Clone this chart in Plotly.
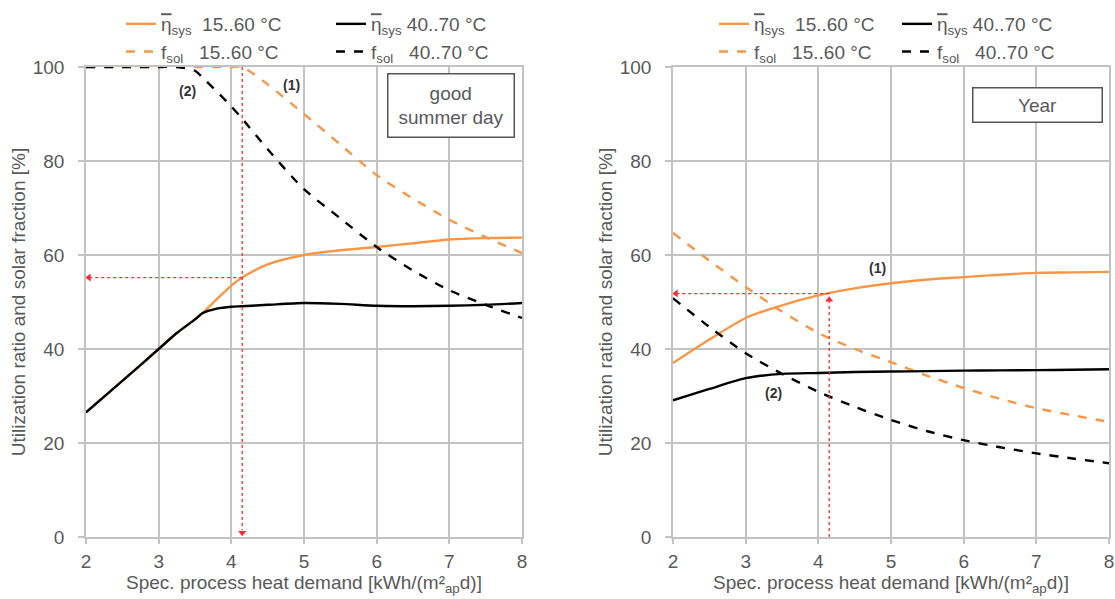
import plotly.graph_objects as go

# ---------------- data ----------------
x_day = [2, 2.5, 3, 3.25, 3.5, 3.6, 3.8, 4, 4.15, 4.5, 5, 5.5, 6, 6.5, 7, 7.5, 8]
eta_15_60_day = [26.5, 33.2, 40, 43.4, 46.3, 47.6, 50.6, 53.5, 55.2, 58, 60, 61, 61.7, 62.5, 63.3, 63.6, 63.7]
eta_40_70_day = [26.5, 33.2, 40, 43.4, 46.3, 47.6, 48.6, 49, 49.1, 49.4, 49.8, 49.6, 49.2, 49.1, 49.2, 49.4, 49.8]
fsol_15_60_day = [100, 100, 100, 100, 100, 100, 100, 100, 100, 96.3, 90, 83.5, 77, 72, 67.5, 63.8, 60.4]
fsol_40_70_day = [100, 100, 100, 100, 99.2, 97.8, 94.8, 91.6, 89, 82.5, 74, 67.8, 61.7, 56.7, 52.5, 49.4, 46.6]

x_year = [2, 2.5, 3, 3.5, 4, 4.5, 5, 5.5, 6, 6.5, 7, 7.5, 8]
eta_15_60_year = [37, 42, 46.6, 49.3, 51.4, 52.9, 54, 54.8, 55.3, 55.8, 56.2, 56.3, 56.4]
fsol_15_60_year = [64.7, 58.8, 53.2, 48, 43.4, 40, 37.2, 34.3, 31.7, 29.4, 27.4, 25.9, 24.5]
eta_40_70_year = [29.1, 31.5, 33.8, 34.7, 34.9, 35.1, 35.2, 35.3, 35.4, 35.45, 35.5, 35.6, 35.7]
fsol_40_70_year = [50.8, 44.7, 39.1, 34.7, 30.9, 27.7, 24.9, 22.5, 20.6, 19.1, 17.8, 16.7, 15.7]

read_x_day, read_y_day = 4.15, 55.2
read_x_year, read_y_year = 4.15, 51.8

x_ticks = [2, 3, 4, 5, 6, 7, 8]
y_ticks = [0, 20, 40, 60, 80, 100]

ORANGE = "#F79646"
BLACK = "#000000"
GRID = "#c3c3c3"
TXT = "#595959"
RED = "#ff2a2a"
FONT = "Liberation Sans, Arial, sans-serif"
FS = 19

ETA = '<span style="text-decoration:overline">η</span><sub>sys</sub>'

fig = go.Figure()

def add_series(x, eta15, eta40, f15, f40, xa, ya, leg_orange, leg_black):
    specs = [
        (eta15, ORANGE, "solid", ETA + "  15..60 °C", leg_orange),
        (f15, ORANGE, "dash", "f<sub>sol</sub>   15..60 °C", leg_orange),
        (eta40, BLACK, "solid", ETA + " 40..70 °C", leg_black),
        (f40, BLACK, "dash", "f<sub>sol</sub>   40..70 °C", leg_black),
    ]
    for y, c, d, name, leg in specs:
        fig.add_trace(go.Scatter(
            x=x, y=y, mode="lines", name=name,
            line=dict(color=c, width=2.4, dash=d, shape="spline", smoothing=0.7),
            xaxis=xa, yaxis=ya, legend=leg, showlegend=True, hoverinfo="skip"))

add_series(x_day, eta_15_60_day, eta_40_70_day, fsol_15_60_day, fsol_40_70_day, "x", "y", "legend", "legend2")
add_series(x_year, eta_15_60_year, eta_40_70_year, fsol_15_60_year, fsol_40_70_year, "x2", "y2", "legend3", "legend4")

# red reading lines
red_line = dict(color=RED, width=1.3, dash="dot")
fig.add_shape(type="line", xref="x", yref="y", x0=read_x_day, x1=read_x_day, y0=100, y1=1.5, line=red_line)
fig.add_shape(type="line", xref="x", yref="y", x0=read_x_day, x1=2.05, y0=read_y_day, y1=read_y_day, line=red_line)
fig.add_shape(type="line", xref="x2", yref="y2", x0=read_x_year, x1=read_x_year, y0=0, y1=read_y_year - 1.5,
              line=red_line)
fig.add_shape(type="line", xref="x2", yref="y2", x0=read_x_year, x1=2.05, y0=read_y_year, y1=read_y_year,
              line=red_line)
# darker reading grid line in year chart
fig.add_shape(type="line", xref="x2", yref="y2", x0=4, x1=4, y0=0, y1=100,
              line=dict(color="#808080", width=1), layer="below")

# arrow heads
fig.add_trace(go.Scatter(x=[read_x_day, 2.04], y=[0.9, read_y_day], mode="markers",
                         marker=dict(symbol=["triangle-down", "triangle-left"], size=7, color=RED),
                         xaxis="x", yaxis="y", showlegend=False, hoverinfo="skip"))
fig.add_trace(go.Scatter(x=[read_x_year, 2.04], y=[read_y_year - 1.3, read_y_year], mode="markers",
                         marker=dict(symbol=["triangle-up", "triangle-left"], size=7, color=RED),
                         xaxis="x2", yaxis="y2", showlegend=False, hoverinfo="skip"))

ann_font = dict(family=FONT, size=14, color="#333333")
annotations = [
    dict(x=3.4, y=95, xref="x", yref="y", text="<b>(2)</b>", showarrow=False, font=ann_font),
    dict(x=4.83, y=96.2, xref="x", yref="y", text="<b>(1)</b>", showarrow=False, font=ann_font),
    dict(x=4.82, y=57.3, xref="x2", yref="y2", text="<b>(1)</b>", showarrow=False, font=ann_font),
    dict(x=3.38, y=30.6, xref="x2", yref="y2", text="<b>(2)</b>", showarrow=False, font=ann_font),
    dict(x=7.02, y=91.9, xref="x", yref="y", text="good<br>summer day", showarrow=False,
         font=dict(family=FONT, size=FS, color=TXT), bordercolor="#555555", borderwidth=1.5,
         borderpad=2, bgcolor="white", width=121, height=58, align="center", valign="middle"),
    dict(x=7.02, y=92.0, xref="x2", yref="y2", text="Year", showarrow=False,
         font=dict(family=FONT, size=FS, color=TXT), bordercolor="#555555", borderwidth=1.5,
         borderpad=6, bgcolor="white", width=116, align="center"),
]

axis_common = dict(
    range=[2, 8], tickvals=x_ticks, showgrid=True, gridcolor=GRID, gridwidth=1.5,
    showline=True, linecolor=GRID, linewidth=1.5, mirror=True,
    ticks="outside", ticklen=5, tickcolor=GRID, tickwidth=1.5, ticklabelstandoff=1,
    tickfont=dict(family=FONT, size=FS, color=TXT), zeroline=False, automargin=False,
    title=dict(text="Spec. process heat demand [kWh/(m²<sub>ap</sub>d)]",
               font=dict(family=FONT, size=FS, color=TXT), standoff=4),
)
yaxis_common = dict(
    range=[0, 100], tickvals=y_ticks, showgrid=True, gridcolor=GRID, gridwidth=1.5,
    showline=True, linecolor=GRID, linewidth=1.5, mirror=True,
    ticks="outside", ticklen=6, tickcolor=GRID, tickwidth=1.5, ticklabelstandoff=10,
    tickfont=dict(family=FONT, size=FS, color=TXT), zeroline=False, automargin=False,
    title=dict(text="Utilization ratio and solar fraction [%]",
               font=dict(family=FONT, size=FS, color=TXT), standoff=2),
)

leg_common = dict(orientation="v", xref="paper", yref="paper", xanchor="left", yanchor="top",
                  traceorder="normal", font=dict(family=FONT, size=FS, color=TXT),
                  bgcolor="rgba(0,0,0,0)", itemwidth=30, y=1 - 5 / 599)

fig.update_layout(
    width=1115, height=599, margin=dict(l=0, r=0, t=0, b=0, autoexpand=False),
    paper_bgcolor="white", plot_bgcolor="white",
    xaxis=dict(domain=[86 / 1115, 522 / 1115], anchor="y", **axis_common),
    yaxis=dict(domain=[62 / 599, 532 / 599], anchor="x", **yaxis_common),
    xaxis2=dict(domain=[673 / 1115, 1109 / 1115], anchor="y2", **axis_common),
    yaxis2=dict(domain=[62 / 599, 532 / 599], anchor="x2", **yaxis_common),
    legend=dict(x=121 / 1115, **leg_common),
    legend2=dict(x=331 / 1115, **leg_common),
    legend3=dict(x=714 / 1115, **leg_common),
    legend4=dict(x=897 / 1115, **leg_common),
    annotations=annotations,
    showlegend=True,
)

fig.write_html("out.html")
